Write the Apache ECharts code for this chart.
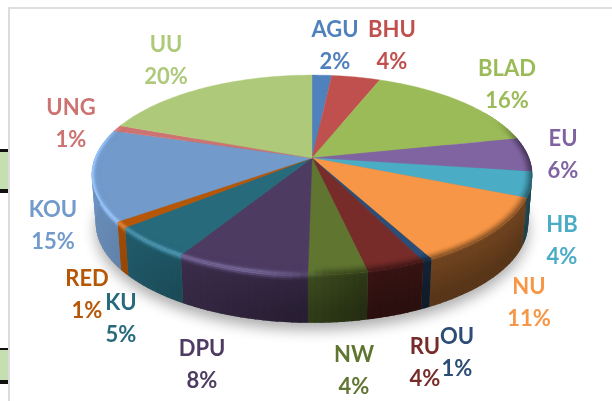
<!DOCTYPE html>
<html>
<head>
<meta charset="utf-8">
<style>html,body{margin:0;padding:0;background:#fff}#main{width:612px;height:401px}</style>
<script src="https://cdn.jsdelivr.net/npm/echarts@6/dist/echarts.min.js"></script>
</head>
<body>
<div id="main"></div>
<script>
var categories = ['AGU','BHU','BLAD','EU','HB','NU','OU','RU','NW','DPU','KU','RED','KOU','UNG','UU'];
// slice sizes, the printed labels are rounded by the original chart
var values = [1.7,4.2,15.8,5.5,4.1,11,0.6,3.7,3.7,8.4,5.3,1,14.8,1,19.3];
var percentLabels = ['2%','4%','16%','6%','4%','11%','1%','4%','4%','8%','5%','1%','15%','1%','20%'];
var colors = ['#4f81bd','#c0504d','#9bbb59','#8064a2','#4bacc6','#f79646','#2c4d75','#772c2a','#5f7530','#4d3b62','#276a7c','#b65708','#729aca','#cd7371','#afc97a'];

// where the two-line labels sit, same order as categories
var labelX = [335,392,507,563,562,529,457,425,354,202,121,87,53,71,166];
var labelY = [46,46,85,155,241,303,353,363,371,365,319,295,226,124,61];

// perspective disc: centre of the pie as seen, and depth of the side wall
var cx = 312, cy = 158, sx = 217, sy = 97, k = 0.17, depth = 48;

var total = 0;
for (var i = 0; i < values.length; i++) total += values[i];
var starts = [], acc = 0;
for (var i = 0; i < values.length; i++) {
    starts.push(acc / total * Math.PI * 2);
    acc += values[i];
}
starts.push(Math.PI * 2);

function rim(a) {
    var v = -Math.cos(a), u = Math.sin(a), w = 1 - k * v;
    return [cx + sx * u / w, cy + sy * v / w];
}
// a rim point moved to level d: d>0 down the wall, d<0 back along the radius
function level(a, d) {
    var p = rim(a);
    if (d > 0) {
        var s = 1 - d / depth * 0.018;
        return [cx + (p[0] - cx) * s, p[1] + d];
    }
    var dx = p[0] - cx, dy = p[1] - cy;
    var r = 1 + d / Math.sqrt(dx * dx + dy * dy);
    return [cx + dx * r, cy + dy * r];
}
function rgb(hex) {
    return [parseInt(hex.substr(1,2),16), parseInt(hex.substr(3,2),16), parseInt(hex.substr(5,2),16)];
}
function clamp(t) { return t < 0 ? 0 : t > 1 ? 1 : t; }
function smooth(t) { t = clamp(t); return t * t * (3 - 2 * t); }

// colour of the bevel and wall at angle a and level d
function shade(base, a, d) {
    var x = Math.sin(a);
    var front = smooth((-Math.cos(a) + 0.45) / 0.35);
    var wall;
    if (x < 0) wall = 0.62 + 0.33 * Math.pow(-x, 1.2);
    else wall = 0.62 - 0.18 * clamp(x / 0.25);
    var start = x > 0.05 ? -10 : x > -0.1 ? -10 + 12 * (0.05 - x) / 0.15 : 2;
    var end = start < -5 ? 4 : 7;
    var t = smooth((d - start) / (end - start)) * front;
    var f = 1 - (1 - wall) * t;
    if (d > 8) f *= 1 - 0.18 * clamp((d - 8) / 30) * clamp(1 + x);
    var glow = x < 0.08 ? 46 * Math.exp(-(d * d) / 7) * clamp((0.08 - x) / 0.3) * front : 0;
    var c = rgb(base);
    return 'rgb(' + Math.min(255, Math.round(c[0] * f + glow * 0.9)) + ',' + Math.min(255, Math.round(c[1] * f + glow)) + ',' + Math.min(255, Math.round(c[2] * f + glow * 1.2)) + ')';
}

// strips of the rounded edge for one slice, between levels d0 and d1
function strips(idx, d0, d1, step) {
    var a0 = Math.max(starts[idx], 1.05), a1 = Math.min(starts[idx + 1], 5.1);
    var out = [];
    if (a1 <= a0) return out;
    var n = Math.max(1, Math.ceil((a1 - a0) / 0.03));
    var da = (a1 - a0) / n;
    for (var d = d0; d < d1; d += step) {
        for (var j = 0; j < n; j++) {
            var b0 = a0 + j * da, b1 = Math.min(a1, b0 + da + 0.006);
            var low = Math.min(d + step + 1, d1);
            out.push({
                type: 'polygon',
                shape: { points: [level(b0, d), level(b1, d), level(b1, low), level(b0, low)] },
                style: { fill: shade(colors[idx], b0 + da / 2, d + step / 2) },
                silent: true
            });
        }
    }
    return out;
}

function renderShadow(params, api) {
    var pts = [];
    for (var j = 0; j <= 120; j++) pts.push(level(j / 120 * Math.PI * 2, depth));
    return {
        type: 'polygon',
        shape: { points: pts },
        style: { fill: '#777', shadowBlur: 14, shadowColor: 'rgba(0,0,0,0.33)', shadowOffsetY: 7 }
    };
}
function renderWall(params, api) {
    return { type: 'group', children: strips(params.dataIndex, 0, depth, 2) };
}
function renderTop(params, api) {
    var idx = params.dataIndex, a0 = starts[idx], a1 = starts[idx + 1];
    var pts = [[cx, cy]];
    var n = Math.max(2, Math.ceil((a1 - a0) / 0.02));
    for (var j = 0; j <= n; j++) pts.push(rim(a0 + (a1 - a0) * j / n));
    return { type: 'polygon', shape: { points: pts }, style: { fill: colors[idx], stroke: colors[idx], lineWidth: 0.4 } };
}
function renderBevel(params, api) {
    return { type: 'group', children: strips(params.dataIndex, -10, 0, 1) };
}
function renderLabel(params, api) {
    var idx = params.dataIndex;
    var font = 'bold 22px Lato, Carlito, sans-serif';
    return {
        type: 'group',
        children: [
            { type: 'text', style: { text: categories[idx], x: labelX[idx], y: labelY[idx] - 16, fill: colors[idx], font: font, align: 'center', verticalAlign: 'middle' } },
            { type: 'text', style: { text: percentLabels[idx], x: labelX[idx], y: labelY[idx] + 16, fill: colors[idx], font: font, align: 'center', verticalAlign: 'middle' } }
        ]
    };
}

var chart = echarts.init(document.getElementById('main'), null, { renderer: 'canvas' });
var option = {
    animation: false,
    backgroundColor: '#fff',
    // leftovers of the sheet around the chart
    graphic: [
        { type: 'rect', shape: { x: 9, y: 7, width: 603, height: 2 }, style: { fill: '#dedede' }, silent: true },
        { type: 'rect', shape: { x: 8, y: 7, width: 2, height: 394 }, style: { fill: '#dcdcdc' }, silent: true },
        { type: 'rect', shape: { x: 0, y: 149, width: 8, height: 44 }, style: { fill: '#111' }, silent: true },
        { type: 'rect', shape: { x: 0, y: 152, width: 8, height: 37 }, style: { fill: '#c6dfb0' }, silent: true },
        { type: 'rect', shape: { x: 0, y: 348, width: 8, height: 36 }, style: { fill: '#111' }, silent: true },
        { type: 'rect', shape: { x: 0, y: 350, width: 8, height: 30 }, style: { fill: '#c6dfb0' }, silent: true }
    ],
    series: [
        { type: 'custom', coordinateSystem: 'none', silent: true, z: 2, data: [0], renderItem: renderShadow },
        { type: 'custom', coordinateSystem: 'none', silent: true, z: 3, data: values, renderItem: renderWall },
        { type: 'custom', coordinateSystem: 'none', silent: true, z: 4, data: values, renderItem: renderTop },
        { type: 'custom', coordinateSystem: 'none', silent: true, z: 5, data: values, renderItem: renderBevel },
        { type: 'custom', coordinateSystem: 'none', silent: true, z: 6, data: values, renderItem: renderLabel }
    ]
};
chart.setOption(option);
</script>
</body>
</html>
